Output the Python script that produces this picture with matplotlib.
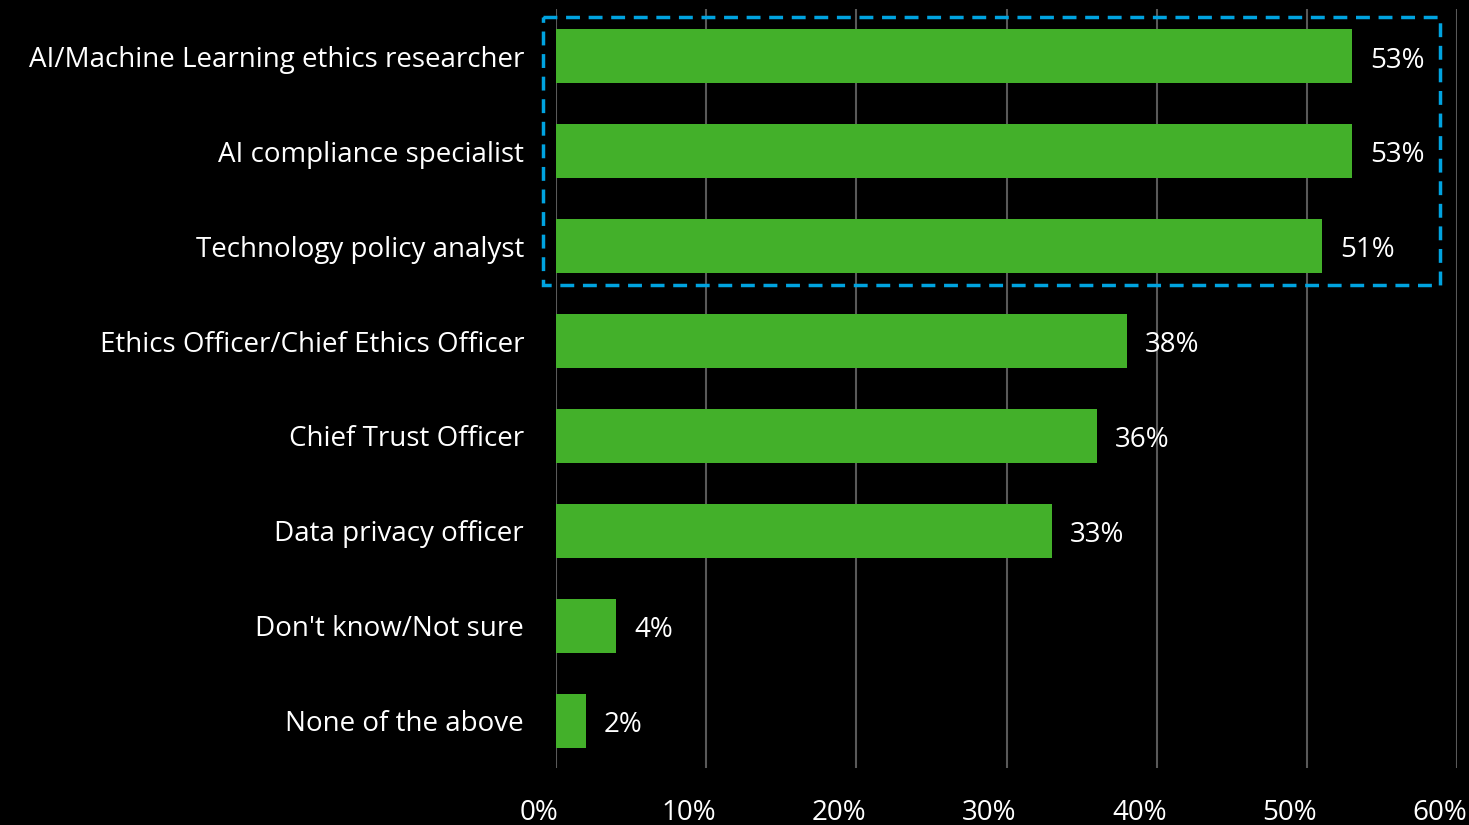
import matplotlib.pyplot as plt
import matplotlib.transforms as mtransforms
from matplotlib.patches import Rectangle

# data
roles = ["AI/Machine Learning ethics researcher", "AI compliance specialist",
         "Technology policy analyst", "Ethics Officer/Chief Ethics Officer",
         "Chief Trust Officer", "Data privacy officer",
         "Don't know/Not sure", "None of the above"]
shares = [53, 53, 51, 38, 36, 33, 4, 2]
xticks = [0, 10, 20, 30, 40, 50, 60]

plt.rcParams['font.family'] = ['Open Sans', 'DejaVu Sans']
fs = 20

fig = plt.figure(figsize=(14.69, 8.25), dpi=100, facecolor='black')
ax = fig.add_axes([556/1469, 1-768/825, (1457-556)/1469, (768-9)/825])
ax.set_facecolor('black')

ypos = list(range(len(roles)))
ax.barh(ypos, shares, height=0.57, color='#43B02A', zorder=3)
ax.set_ylim(len(roles)-0.5, -0.5)
ax.set_xlim(0, 60)

ax.set_xticks(xticks)
ax.set_xticklabels([f"{t}%" for t in xticks], color='white', fontsize=fs)
ax.tick_params(axis='x', length=0, pad=22)
shift = mtransforms.ScaledTranslation(-17/100, 0, fig.dpi_scale_trans)
for lbl in ax.get_xticklabels():
    lbl.set_transform(lbl.get_transform() + shift)

ax.set_yticks(ypos)
ax.set_yticklabels(roles, color='white', fontsize=fs)
ax.tick_params(axis='y', length=0, pad=23)

ax.grid(axis='x', color='#595959', linewidth=1.5, zorder=0)
for s in ax.spines.values():
    s.set_visible(False)

for y, v in zip(ypos, shares):
    ax.annotate(f"{v}%", (v, y), xytext=(13, -3), textcoords='offset points',
                va='center', ha='left', color='white', fontsize=fs)

# dashed highlight box around top three
box = Rectangle((-0.87, -0.42), 59.73, 2.83, fill=False, edgecolor='#00A3E0',
                linewidth=2.5, linestyle=(0, (4, 2.5)), clip_on=False, zorder=5)
ax.add_patch(box)

fig.savefig('out.png', dpi=100, facecolor='black')
